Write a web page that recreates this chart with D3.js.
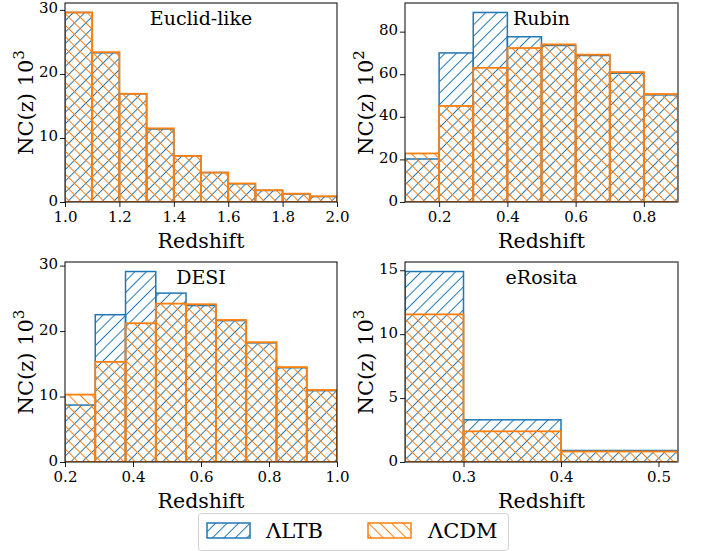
<!DOCTYPE html>
<html>
<head>
<meta charset="utf-8">
<script src="https://cdn.jsdelivr.net/npm/d3@7"></script>
<style>
  body { margin: 0; background: #fff; }
  svg { display: block; font-family: "DejaVu Serif", serif; }
</style>
</head>
<body>
<div id="chart"></div>
<script>
// bin edges and counts
var euclidEdges = [1.0, 1.1, 1.2, 1.3, 1.4, 1.5, 1.6, 1.7, 1.8, 1.9, 2.0];
var euclidLTB = [29.6, 23.3, 16.9, 11.4, 7.2, 4.6, 2.85, 1.8, 1.25, 0.85];
var euclidCDM = [29.6, 23.4, 16.9, 11.5, 7.2, 4.6, 2.9, 1.85, 1.3, 0.9];

var rubinEdges = [0.1, 0.2, 0.3, 0.4, 0.5, 0.6, 0.7, 0.8, 0.9];
var rubinLTB = [20.2, 70, 89, 77.6, 73.5, 68.8, 60.5, 50.3];
var rubinCDM = [22.8, 45.1, 63, 72.3, 74, 69.2, 61, 50.7];

var desiEdges = [0.2, 0.289, 0.378, 0.467, 0.556, 0.644, 0.733, 0.822, 0.911, 1.0];
var desiLTB = [8.7, 22.5, 29.1, 25.8, 23.9, 21.6, 18.2, 14.4, 10.9];
var desiCDM = [10.3, 15.3, 21.2, 24.2, 24.1, 21.7, 18.3, 14.5, 11.0];

var erositaEdges = [0.24, 0.3, 0.4, 0.52];
var erositaLTB = [14.9, 3.3, 0.9];
var erositaCDM = [11.55, 2.4, 0.82];

// tick labels
var euclidXTicks = [1.0, 1.2, 1.4, 1.6, 1.8, 2.0];
var euclidYTicks = [0, 10, 20, 30];
var rubinXTicks = [0.2, 0.4, 0.6, 0.8];
var rubinYTicks = [0, 20, 40, 60, 80];
var desiXTicks = [0.2, 0.4, 0.6, 0.8, 1.0];
var desiYTicks = [0, 10, 20, 30];
var erositaXTicks = [0.3, 0.4, 0.5];
var erositaYTicks = [0, 5, 10, 15];

var seriesNames = ["\u039BLTB", "\u039BCDM"];

var blue = "#1f77b4", orange = "#ff7f0e";
var W = 703, H = 551;
var FONT = "DejaVu Serif";

var svg = d3.select("#chart").append("svg")
  .attr("width", W).attr("height", H);

var defs = svg.append("defs");
// hatch patterns: '//' for LTB, '\\' for CDM
function hatch(id, color, angle) {
  var s = 8.1; // perpendicular spacing
  defs.append("pattern")
    .attr("id", id)
    .attr("patternUnits", "userSpaceOnUse")
    .attr("width", s).attr("height", s)
    .attr("patternTransform", "rotate(" + angle + ")")
    .append("line")
      .attr("x1", s / 2).attr("y1", -1)
      .attr("x2", s / 2).attr("y2", s + 1)
      .attr("stroke", color)
      .attr("stroke-width", 1);
}
hatch("hatchLTB", blue, 45);
hatch("hatchCDM", orange, -45);

var panels = [
  {title: "Euclid-like", edges: euclidEdges, ltb: euclidLTB, cdm: euclidCDM,
   xt: euclidXTicks, yt: euclidYTicks, exp: "3",
   box: [65, 3, 337, 202], dom: [1.0, 2.0]},
  {title: "Rubin", edges: rubinEdges, ltb: rubinLTB, cdm: rubinCDM,
   xt: rubinXTicks, yt: rubinYTicks, exp: "2",
   box: [405, 3, 678, 202], dom: [0.1, 0.9], right: true},
  {title: "DESI", edges: desiEdges, ltb: desiLTB, cdm: desiCDM,
   xt: desiXTicks, yt: desiYTicks, exp: "3",
   box: [65, 262, 337, 462], dom: [0.2, 1.0]},
  {title: "eRosita", edges: erositaEdges, ltb: erositaLTB, cdm: erositaCDM,
   xt: erositaXTicks, yt: erositaYTicks, exp: "3",
   box: [405, 262, 678, 462], dom: [0.24, 0.52], right: true}
];

panels.forEach(function(p, pi) {
  var x0 = p.box[0], y0 = p.box[1], x1 = p.box[2], y1 = p.box[3];
  var ymax = d3.max(p.ltb.concat(p.cdm)) * 1.05;

  var x = d3.scaleLinear().domain(p.dom).range([x0, x1]);
  var y = d3.scaleLinear().domain([0, ymax]).range([y1, y0]);

  var clipId = "clip" + pi;
  defs.append("clipPath").attr("id", clipId)
    .append("rect").attr("x", x0).attr("y", y0 - 2)
    .attr("width", x1 - x0).attr("height", y1 - y0 + 2);

  var g = svg.append("g").attr("clip-path", "url(#" + clipId + ")");

  function bars(vals, fill, stroke, sw) {
    g.selectAll(null)
      .data(vals)
      .enter().append("rect")
        .attr("x", function(d, i) { return x(p.edges[i]); })
        .attr("width", function(d, i) { return x(p.edges[i + 1]) - x(p.edges[i]); })
        .attr("y", function(d) { return y(d); })
        .attr("height", function(d) { return y(0) - y(d); })
        .attr("fill", fill)
        .attr("stroke", stroke)
        .attr("stroke-width", sw);
  }
  bars(p.ltb, "url(#hatchLTB)", blue, 1.5);
  bars(p.cdm, "url(#hatchCDM)", orange, 1.8);

  // axes
  var xAxis = svg.append("g")
    .attr("transform", "translate(0," + y1 + ")")
    .call(d3.axisBottom(x).tickValues(p.xt).tickFormat(d3.format(".1f")).tickSize(5).tickPadding(4));
  var yAxis = svg.append("g")
    .attr("transform", "translate(" + x0 + ",0)")
    .call(d3.axisLeft(y).tickValues(p.yt).tickFormat(d3.format("d")).tickSize(5).tickPadding(2));
  [xAxis, yAxis].forEach(function(a) {
    a.attr("font-family", FONT).attr("font-size", 15);
    a.select(".domain").remove();
    a.selectAll("text").attr("fill", "#000");
    a.selectAll("line").attr("stroke", "#000").attr("stroke-width", 0.9);
  });
  yAxis.selectAll("text").attr("dy", "0.2em");

  // spines
  svg.append("rect")
    .attr("x", x0).attr("y", y0)
    .attr("width", x1 - x0).attr("height", y1 - y0)
    .attr("fill", "none").attr("stroke", "#000").attr("stroke-width", 1);
  if (p.right) {
    // right edge of the right-hand panels shows greyish in the figure
    svg.append("line")
      .attr("x1", x1).attr("x2", x1).attr("y1", y0).attr("y2", y1)
      .attr("stroke", "#808080").attr("stroke-width", 1.6);
  }

  // title inside axes
  svg.append("text")
    .attr("x", (x0 + x1) / 2)
    .attr("y", y0 + 22)
    .attr("text-anchor", "middle")
    .attr("font-size", 19)
    .text(p.title);

  // axis labels
  svg.append("text")
    .attr("x", (x0 + x1) / 2)
    .attr("y", y1 + 46)
    .attr("text-anchor", "middle")
    .attr("font-size", 20.5)
    .text("Redshift");

  var yl = svg.append("text")
    .attr("transform", "translate(" + (x0 - 32) + "," + ((y0 + y1) / 2) + ") rotate(-90)")
    .attr("text-anchor", "middle")
    .attr("font-size", 21);
  yl.append("tspan").text("NC(z) 10");
  yl.append("tspan").attr("dy", -9).attr("font-size", 15).text(p.exp);
});

// legend
var leg = svg.append("g");
leg.append("rect")
  .attr("x", 198.5).attr("y", 513.5)
  .attr("width", 310).attr("height", 37)
  .attr("rx", 3)
  .attr("fill", "#fff").attr("stroke", "#d0d0d0").attr("stroke-width", 1);

var legItems = [
  {name: seriesNames[0], fill: "url(#hatchLTB)", stroke: blue, px: 207, tx: 266},
  {name: seriesNames[1], fill: "url(#hatchCDM)", stroke: orange, px: 368, tx: 428}
];
legItems.forEach(function(it) {
  leg.append("rect")
    .attr("x", it.px).attr("y", 523)
    .attr("width", 43).attr("height", 15)
    .attr("fill", it.fill).attr("stroke", it.stroke).attr("stroke-width", 1.5);
  leg.append("text")
    .attr("x", it.tx).attr("y", 538)
    .attr("font-size", 21)
    .text(it.name);
});
</script>
</body>
</html>
